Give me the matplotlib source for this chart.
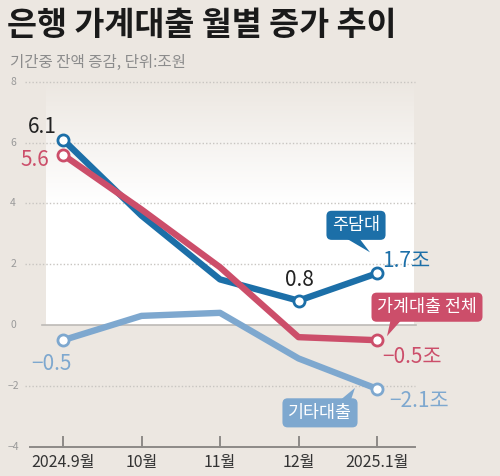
import matplotlib
matplotlib.use("Agg")
import matplotlib.pyplot as plt
import numpy as np
from matplotlib.colors import LinearSegmentedColormap
from matplotlib.patches import Polygon

plt.rcParams['font.family'] = ['Noto Sans CJK KR', 'DejaVu Sans']
plt.rcParams['axes.unicode_minus'] = True

# data
months = ['2024.9월', '10월', '11월', '12월', '2025.1월']
mortgage = [6.1, 3.6, 1.5, 0.8, 1.7]        # 주담대
total = [5.6, 3.8, 1.9, -0.4, -0.5]         # 가계대출 전체
other = [-0.5, 0.3, 0.4, -1.1, -2.1]        # 기타대출
yticks = [8, 6, 4, 2, 0, -2, -4]

BG = '#ece7e1'
BLUE = '#1c6fa8'
RED = '#cc4e6a'
LBLUE = '#7ea8cf'
GRAY = '#9a9a9a'

fig = plt.figure(figsize=(5, 4.76), dpi=100, facecolor=BG)
ax = fig.add_axes([0, 0, 1, 1])
ax.set_facecolor(BG)

# pixel -> data helpers (layout only)
XS, YS = 78.5, 30.4

def px(x):
    return (x - 63) / XS

def py(y):
    return (325 - y) / YS

xlim = (px(0), px(500))
ylim = (py(476), py(0))

# white panel with fade at top
cmap = LinearSegmentedColormap.from_list('fade', ['white', 'white', BG])
grad = np.linspace(0, 1, 200).reshape(-1, 1)
ax.imshow(grad, extent=[px(46), px(414), 0, py(80)], origin='lower',
          aspect='auto', cmap=cmap, zorder=0)

x = np.arange(len(months))

# grid
for t in yticks:
    if t == 0:
        ax.plot([px(42), px(416)], [0, 0], color='#bdbab6', lw=1.2, zorder=1)
    elif t == -4:
        ax.plot([px(30), px(415)], [t, t], color='#8d8a87', lw=1.4, zorder=1)
    else:
        ax.plot([px(25), px(415)], [t, t], color='#c8c5c1', lw=1.0,
                ls=(0, (1, 1.5)), zorder=1)
    label = str(t).replace('-', '−')
    ax.text(px(13), t, label, ha='center', va='center', fontsize=7.5,
            color=GRAY)

# x ticks
for i, m in enumerate(months):
    ax.plot([i, i], [-4, -4 + 0.33], color='#8d8a87', lw=1.4, zorder=1)
    ax.text(i, py(463), m, ha='center', va='center', fontsize=11.5,
            color='#333333')

# lines
ax.plot(x, other, color=LBLUE, lw=4.6, solid_capstyle='round',
        solid_joinstyle='round', zorder=3)
ax.plot(x, mortgage, color=BLUE, lw=4.6, solid_capstyle='round',
        solid_joinstyle='round', zorder=4)
ax.plot(x, total, color=RED, lw=4.6, solid_capstyle='round',
        solid_joinstyle='round', zorder=5)

mk = dict(marker='o', ms=8, mfc='white', mew=2, ls='none')
ax.plot([x[0], x[-1]], [other[0], other[-1]], mec=LBLUE, zorder=6, **mk)
ax.plot([x[0], x[3], x[-1]], [mortgage[0], mortgage[3], mortgage[-1]],
        mec=BLUE, zorder=6, **mk)
ax.plot([x[0], x[-1]], [total[0], total[-1]], mec=RED, zorder=6, **mk)

def fmt(v, unit=''):
    return (f'{v:.1f}' + unit).replace('-', '−')

lab = dict(textcoords='offset points', va='center', fontsize=15,
           fontweight='medium')
ax.annotate(fmt(mortgage[0]), (x[0], mortgage[0]), xytext=(-15, 9),
            ha='center', color='#222222', **lab)
ax.annotate(fmt(total[0]), (x[0], total[0]), xytext=(-20, -4),
            ha='center', color=RED, **lab)
ax.annotate(fmt(other[0]), (x[0], other[0]), xytext=(-8, -17),
            ha='center', color=LBLUE, **lab)
ax.annotate(fmt(mortgage[3]), (x[3], mortgage[3]), xytext=(1, 15),
            ha='center', color='#222222', **lab)
ax.annotate(fmt(mortgage[-1], '조'), (x[-1], mortgage[-1]), xytext=(4, 9),
            ha='left', color=BLUE, **lab)
ax.annotate(fmt(total[-1], '조'), (x[-1], total[-1]), xytext=(4, -12),
            ha='left', color=RED, **lab)
ax.annotate(fmt(other[-1], '조'), (x[-1], other[-1]), xytext=(9, -9),
            ha='left', color=LBLUE, **lab)

# callout boxes: offsets in pixels from the data point (y down)
def callout(text, xi, yv, center, tri, color):
    cx = xi + center[0] / XS
    cy = yv - center[1] / YS
    ax.text(cx, cy, text, ha='center', va='center', fontsize=12.5,
            color='white', fontweight='medium', zorder=8,
            bbox=dict(boxstyle='round,pad=0.32,rounding_size=0.3',
                      fc=color, ec='none'))
    pts = [(xi + dx / XS, yv - dy / YS) for dx, dy in tri]
    ax.add_patch(Polygon(pts, closed=True, fc=color, ec='none', zorder=7))

callout('주담대', x[-1], mortgage[-1], (-21, -48),
        [(-36, -38), (-20, -38), (-7, -21)], BLUE)
callout('가계대출 전체', x[-1], total[-1], (50, -33),
        [(14, -22), (26, -22), (10, -4)], RED)
callout('기타대출', x[-1], other[-1], (-57, 24),
        [(-40, 14), (-27, 14), (-22, -1)], LBLUE)

ax.set_xlim(*xlim)
ax.set_ylim(*ylim)
ax.axis('off')

# titles
fig.text(0.014, 1 - 25 / 476, '은행 가계대출 월별 증가 추이', fontsize=23.5,
         fontweight='bold', color='#1a1a1a', va='center', ha='left')
fig.text(0.02, 1 - 62 / 476, '기간중 잔액 증감, 단위:조원', fontsize=11.2,
         color='#8c8c8c', va='center', ha='left')

fig.savefig('out.png', dpi=100, facecolor=BG)
